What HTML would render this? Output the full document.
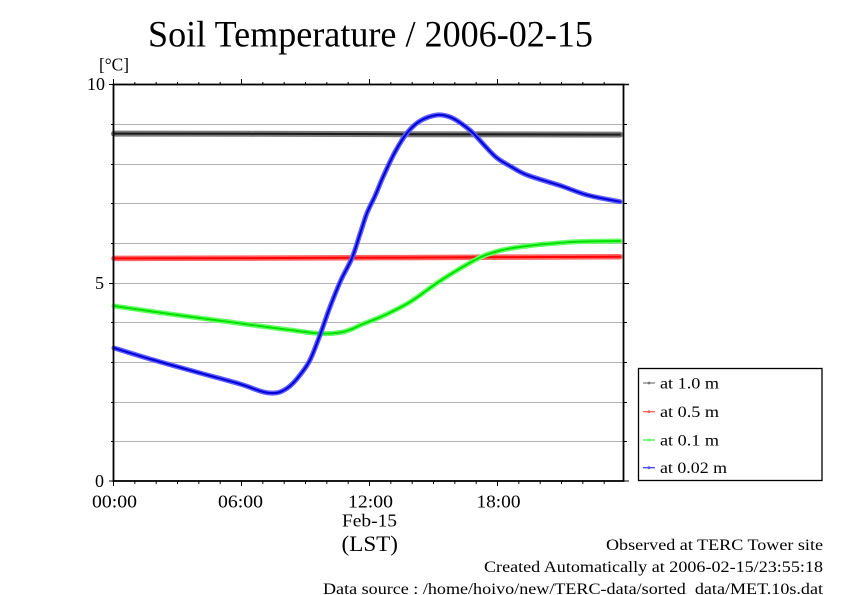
<!DOCTYPE html>
<html>
<head>
<meta charset="utf-8">
<style>
  html,body{margin:0;padding:0;background:#fff;}
  svg{display:block;}
  text{font-family:"Liberation Serif","Times New Roman",serif;fill:#000;}
</style>
</head>
<body>
<svg width="842" height="595" viewBox="0 0 842 595" xmlns="http://www.w3.org/2000/svg">
  <rect x="0" y="0" width="842" height="595" fill="#fff"/>

  <!-- Title -->
  <text x="148" y="46.5" font-size="37" textLength="445" lengthAdjust="spacingAndGlyphs">Soil Temperature / 2006-02-15</text>

  <!-- unit label -->
  <text x="99" y="70.5" font-size="18" textLength="30" lengthAdjust="spacingAndGlyphs">[°C]</text>

  <!-- gridlines -->
  <g stroke="#b4b4b4" stroke-width="1">
    <line x1="113" y1="124.5" x2="623" y2="124.5"/>
    <line x1="113" y1="164.5" x2="623" y2="164.5"/>
    <line x1="113" y1="203.5" x2="623" y2="203.5"/>
    <line x1="113" y1="243.5" x2="623" y2="243.5"/>
    <line x1="113" y1="283.5" x2="623" y2="283.5"/>
    <line x1="113" y1="322.5" x2="623" y2="322.5"/>
    <line x1="113" y1="362.5" x2="623" y2="362.5"/>
    <line x1="113" y1="402.5" x2="623" y2="402.5"/>
    <line x1="113" y1="441.5" x2="623" y2="441.5"/>
  </g>

  <g fill="none" stroke-linecap="round" stroke-linejoin="round">
    <!-- black 1.0 m -->
    <path d="M114,133.6 L250,133.8 L400,134.2 L520,134.4 L620,134.6" stroke="#7a7a7a" stroke-width="6"/>
    <path d="M114,133.6 L250,133.8 L400,134.2 L520,134.4 L620,134.6" stroke="#1a1a1a" stroke-width="2"/>

    <!-- red 0.5 m -->
    <path d="M114,258.4 L250,258.1 L400,257.6 L520,257.1 L620,256.7" stroke="#ff6262" stroke-width="5.5"/>
    <path d="M114,258.4 L250,258.1 L400,257.6 L520,257.1 L620,256.7" stroke="#ff0000" stroke-width="2"/>

    <!-- green 0.1 m -->
    <path id="g" d="M114,306 C123.3,307.3 150.7,311.3 170,314 C189.3,316.7 210,319.3 230,322 C250,324.7 275,328.1 290,330 C305,331.9 311.7,333.1 320,333.5 C328.3,333.9 334.7,333.3 340,332.5 C345.3,331.8 348.2,330.4 352,329 C355.8,327.6 357.5,326.3 363,324 C368.5,321.7 377.2,318.7 385,315 C392.8,311.3 401.3,307.3 410,302 C418.7,296.7 428.7,288.6 437,283 C445.3,277.4 452.7,272.8 460,268.5 C467.3,264.2 475.2,259.8 481,257 C486.8,254.3 490.2,253.4 495,252 C499.8,250.6 502,249.8 510,248.5 C518,247.2 531.8,245.4 543,244.3 C554.2,243.2 564.2,242.3 577,241.7 C589.8,241.1 612.8,241.1 620,241"
          stroke="#66ff66" stroke-width="5"/>
    <path d="M114,306 C123.3,307.3 150.7,311.3 170,314 C189.3,316.7 210,319.3 230,322 C250,324.7 275,328.1 290,330 C305,331.9 311.7,333.1 320,333.5 C328.3,333.9 334.7,333.3 340,332.5 C345.3,331.8 348.2,330.4 352,329 C355.8,327.6 357.5,326.3 363,324 C368.5,321.7 377.2,318.7 385,315 C392.8,311.3 401.3,307.3 410,302 C418.7,296.7 428.7,288.6 437,283 C445.3,277.4 452.7,272.8 460,268.5 C467.3,264.2 475.2,259.8 481,257 C486.8,254.3 490.2,253.4 495,252 C499.8,250.6 502,249.8 510,248.5 C518,247.2 531.8,245.4 543,244.3 C554.2,243.2 564.2,242.3 577,241.7 C589.8,241.1 612.8,241.1 620,241"
          stroke="#00e000" stroke-width="2"/>

    <!-- blue 0.02 m -->
    <path d="M114,348 C120,349.8 135.7,354.8 150,359 C164.3,363.2 185,368.8 200,373 C215,377.2 230,381 240,384 C250,387 255,389.5 260,391 C265,392.5 266.7,392.8 270,393 C273.3,393.2 276.7,393.2 280,392 C283.3,390.8 286.7,388.8 290,386 C293.3,383.2 296.7,379.3 300,375 C303.3,370.7 306.7,366.7 310,360 C313.3,353.3 316.7,343.8 320,335 C323.3,326.2 326.5,316.2 330,307 C333.5,297.8 337.3,288.2 341,280 C344.7,271.8 348.8,265.7 352,258 C355.2,250.3 357.5,241.5 360,234 C362.5,226.5 364.5,219.3 367,213 C369.5,206.7 372.3,202 375,196 C377.7,190 379.7,184.3 383,177 C386.3,169.7 391,159.3 395,152 C399,144.7 402.8,138.2 407,133 C411.2,127.8 415,124 420,121 C425,118 432,115.7 437,115 C442,114.3 445.8,115.5 450,117 C454.2,118.5 458.2,121.3 462,124 C465.8,126.7 469.2,129.3 473,133 C476.8,136.7 481,141.8 485,146 C489,150.2 492.8,154.7 497,158 C501.2,161.3 505,163.2 510,166 C515,168.8 518.7,171.8 527,175 C535.3,178.3 550,182.2 560,185.5 C570,188.8 577,192.3 587,195 C597,197.7 614.5,200.6 620,201.7"
          stroke="#5c5cff" stroke-width="5"/>
    <path d="M114,348 C120,349.8 135.7,354.8 150,359 C164.3,363.2 185,368.8 200,373 C215,377.2 230,381 240,384 C250,387 255,389.5 260,391 C265,392.5 266.7,392.8 270,393 C273.3,393.2 276.7,393.2 280,392 C283.3,390.8 286.7,388.8 290,386 C293.3,383.2 296.7,379.3 300,375 C303.3,370.7 306.7,366.7 310,360 C313.3,353.3 316.7,343.8 320,335 C323.3,326.2 326.5,316.2 330,307 C333.5,297.8 337.3,288.2 341,280 C344.7,271.8 348.8,265.7 352,258 C355.2,250.3 357.5,241.5 360,234 C362.5,226.5 364.5,219.3 367,213 C369.5,206.7 372.3,202 375,196 C377.7,190 379.7,184.3 383,177 C386.3,169.7 391,159.3 395,152 C399,144.7 402.8,138.2 407,133 C411.2,127.8 415,124 420,121 C425,118 432,115.7 437,115 C442,114.3 445.8,115.5 450,117 C454.2,118.5 458.2,121.3 462,124 C465.8,126.7 469.2,129.3 473,133 C476.8,136.7 481,141.8 485,146 C489,150.2 492.8,154.7 497,158 C501.2,161.3 505,163.2 510,166 C515,168.8 518.7,171.8 527,175 C535.3,178.3 550,182.2 560,185.5 C570,188.8 577,192.3 587,195 C597,197.7 614.5,200.6 620,201.7"
          stroke="#0000d8" stroke-width="2"/>
  </g>

  <!-- frame -->
  <rect x="113.5" y="84.5" width="510" height="396.5" fill="none" stroke="#000" stroke-width="1.8"/>
  <line x1="623" y1="84.5" x2="629" y2="84.5" stroke="#000" stroke-width="1.5"/>

  <!-- left/right ticks -->
  <g stroke="#000" stroke-width="1">
    <line x1="109" y1="84.5" x2="113" y2="84.5"/>
    <line x1="109" y1="283.5" x2="113" y2="283.5"/>
    <line x1="109" y1="481" x2="113" y2="481"/>
    <line x1="111" y1="124.5" x2="113" y2="124.5"/>
    <line x1="111" y1="164.5" x2="113" y2="164.5"/>
    <line x1="111" y1="203.5" x2="113" y2="203.5"/>
    <line x1="111" y1="243.5" x2="113" y2="243.5"/>
    <line x1="111" y1="322.5" x2="113" y2="322.5"/>
    <line x1="111" y1="362.5" x2="113" y2="362.5"/>
    <line x1="111" y1="402.5" x2="113" y2="402.5"/>
    <line x1="111" y1="441.5" x2="113" y2="441.5"/>

    <line x1="624" y1="283.5" x2="629" y2="283.5"/>
    <line x1="624" y1="481" x2="629" y2="481"/>
    <line x1="624" y1="124.5" x2="627" y2="124.5"/>
    <line x1="624" y1="164.5" x2="627" y2="164.5"/>
    <line x1="624" y1="203.5" x2="627" y2="203.5"/>
    <line x1="624" y1="243.5" x2="627" y2="243.5"/>
    <line x1="624" y1="322.5" x2="627" y2="322.5"/>
    <line x1="624" y1="362.5" x2="627" y2="362.5"/>
    <line x1="624" y1="402.5" x2="627" y2="402.5"/>
    <line x1="624" y1="441.5" x2="627" y2="441.5"/>
  </g>

  <!-- top/bottom ticks (hourly) -->
  <g stroke="#000" stroke-width="1">
    <line x1="113.5" y1="79" x2="113.5" y2="84"/>
    <line x1="241.5" y1="79" x2="241.5" y2="84"/>
    <line x1="369.5" y1="79" x2="369.5" y2="84"/>
    <line x1="497.5" y1="79" x2="497.5" y2="84"/>
    <line x1="113.5" y1="481" x2="113.5" y2="486"/>
    <line x1="241.5" y1="481" x2="241.5" y2="486"/>
    <line x1="369.5" y1="481" x2="369.5" y2="486"/>
    <line x1="497.5" y1="481" x2="497.5" y2="486"/>
    <path d="M134.8,82V84 M156.2,82V84 M177.5,82V84 M198.8,82V84 M220.2,82V84
             M262.8,82V84 M284.2,82V84 M305.5,82V84 M326.8,82V84 M348.2,82V84
             M390.8,82V84 M412.2,82V84 M433.5,82V84 M454.8,82V84 M476.2,82V84
             M518.8,82V84 M540.2,82V84 M561.5,82V84 M582.8,82V84 M604.2,82V84"/>
    <path d="M134.8,481V484 M156.2,481V484 M177.5,481V484 M198.8,481V484 M220.2,481V484
             M262.8,481V484 M284.2,481V484 M305.5,481V484 M326.8,481V484 M348.2,481V484
             M390.8,481V484 M412.2,481V484 M433.5,481V484 M454.8,481V484 M476.2,481V484
             M518.8,481V484 M540.2,481V484 M561.5,481V484 M582.8,481V484 M604.2,481V484"/>
  </g>

  <!-- y labels -->
  <text x="105" y="90" font-size="18" text-anchor="end">10</text>
  <text x="104" y="289" font-size="18" text-anchor="end">5</text>
  <text x="104" y="487" font-size="18" text-anchor="end">0</text>

  <!-- x labels -->
  <text x="92" y="507.5" font-size="18" textLength="45" lengthAdjust="spacingAndGlyphs">00:00</text>
  <text x="218" y="507.5" font-size="18" textLength="45" lengthAdjust="spacingAndGlyphs">06:00</text>
  <text x="348" y="507.5" font-size="18" textLength="45" lengthAdjust="spacingAndGlyphs">12:00</text>
  <text x="476.5" y="507.5" font-size="18" textLength="44" lengthAdjust="spacingAndGlyphs">18:00</text>
  <text x="342" y="526.5" font-size="18" textLength="55" lengthAdjust="spacingAndGlyphs">Feb-15</text>
  <text x="341.5" y="551" font-size="22" textLength="56.5" lengthAdjust="spacingAndGlyphs">(LST)</text>

  <!-- legend -->
  <rect x="638.5" y="368.5" width="183.5" height="112" fill="#fff" stroke="#000" stroke-width="1.3"/>
  <g stroke-width="1.2">
    <line x1="643" y1="383" x2="655" y2="383" stroke="#777"/>
    <line x1="643" y1="411.7" x2="655" y2="411.7" stroke="#ff5050"/>
    <line x1="643" y1="440" x2="655" y2="440" stroke="#33ee33"/>
    <line x1="643" y1="467.7" x2="655" y2="467.7" stroke="#3333ff"/>
  </g>
  <circle cx="649" cy="383" r="1.4" fill="#777"/>
  <circle cx="649" cy="411.7" r="1.4" fill="#ff6060"/>
  <circle cx="649" cy="440" r="1.4" fill="#55ff55"/>
  <circle cx="649" cy="467.7" r="1.4" fill="#5555ff"/>
  <text x="660" y="388.5" font-size="16" textLength="59" lengthAdjust="spacingAndGlyphs">at 1.0 m</text>
  <text x="660" y="417" font-size="16" textLength="59" lengthAdjust="spacingAndGlyphs">at 0.5 m</text>
  <text x="660" y="445.5" font-size="16" textLength="59" lengthAdjust="spacingAndGlyphs">at 0.1 m</text>
  <text x="660" y="473" font-size="16" textLength="67" lengthAdjust="spacingAndGlyphs">at 0.02 m</text>

  <!-- footer -->
  <text x="606" y="550" font-size="16" textLength="217" lengthAdjust="spacingAndGlyphs">Observed at TERC Tower site</text>
  <text x="484" y="572" font-size="16" textLength="339" lengthAdjust="spacingAndGlyphs">Created Automatically at 2006-02-15/23:55:18</text>
  <text x="323" y="594" font-size="16" textLength="500" lengthAdjust="spacingAndGlyphs">Data source : /home/hoivo/new/TERC-data/sorted_data/MET.10s.dat</text>
</svg>
</body>
</html>
